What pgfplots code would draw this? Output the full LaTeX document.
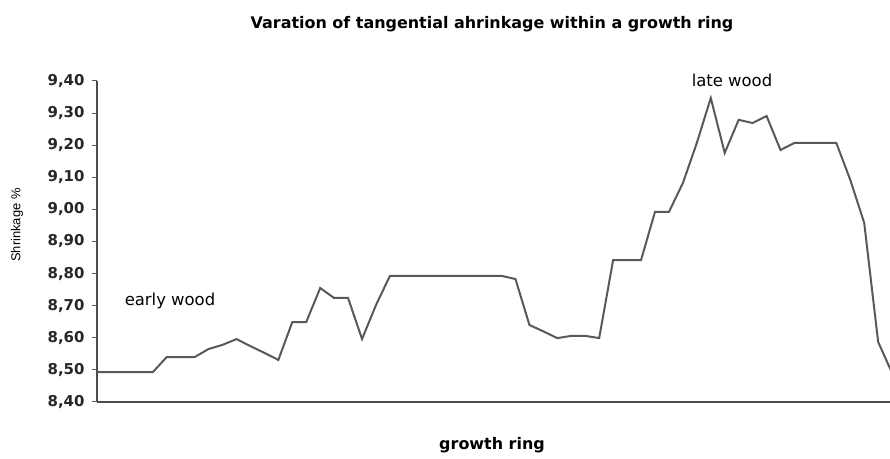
\documentclass[border=0pt]{standalone}
\usepackage{fontspec}
\setmainfont{DejaVu Sans}
\newfontfamily\narrowfont{Liberation Sans}
\usepackage{pgfplots}
\pgfplotsset{compat=1.18}
\begin{document}
\begin{tikzpicture}[x=1bp,y=1bp]
\useasboundingbox (0,0) rectangle (890,459);
\begin{axis}[at={(97bp,57bp)}, anchor=south west, width=793bp, height=321bp, scale only axis,
  xmin=0, xmax=56.85, ymin=8.4, ymax=9.4,
  axis x line*=bottom, axis y line*=left,
  xtick=\empty,
  ytick={8.4,8.5,8.6,8.7,8.8,8.9,9.0,9.1,9.2,9.3,9.4},
  yticklabel style={xshift=-4bp, /pgf/number format/.cd, fixed, fixed zerofill, precision=2, use comma, assume math mode=true},
  tick label style={font=\fontsize{15}{15}\selectfont\bfseries, text=black!85},
  tick align=outside, major tick length=5bp,
  tick style={draw=black!65, line width=1bp},
  axis line style={draw=black!70, line width=1.6bp},
  clip=true]
\addplot[draw=black!65, line width=2bp] coordinates {
(0,8.493) (1,8.493) (2,8.493) (3,8.493) (4,8.493)
(5,8.540) (6,8.540) (7,8.540) (8,8.565) (9,8.578) (10,8.596)
(11,8.574) (12,8.553) (13,8.531) (14,8.649) (15,8.649)
(16,8.755) (17,8.724) (18,8.724) (19,8.596) (20,8.702)
(21,8.793) (22,8.793) (23,8.793) (24,8.793) (25,8.793) (26,8.793) (27,8.793) (28,8.793) (29,8.793)
(30,8.783) (31,8.640) (32,8.620) (33,8.599) (34,8.606) (35,8.606) (36,8.599)
(37,8.842) (38,8.842) (39,8.842) (40,8.992) (41,8.992)
(42,9.082) (43,9.207) (44,9.347) (45,9.176) (46,9.279) (47,9.269) (48,9.291)
(49,9.185) (50,9.207) (51,9.207) (52,9.207) (53,9.207)
(54,9.092) (55,8.958) (56,8.587) (57,8.490)
};
\end{axis}
\node[font=\fontsize{16}{16}\selectfont\bfseries] at (492,435) {Varation of tangential ahrinkage within a growth ring};
\node[font=\fontsize{16}{16}\selectfont\bfseries] at (492,14) {growth ring};
\node[font=\narrowfont\fontsize{13}{13}\selectfont, rotate=90] at (17,234) {Shrinkage \%};
\node[font=\fontsize{16.5}{16.5}\selectfont] at (170,158) {early wood};
\node[font=\fontsize{16.5}{16.5}\selectfont] at (732,379) {late wood};
\end{tikzpicture}
\end{document}
